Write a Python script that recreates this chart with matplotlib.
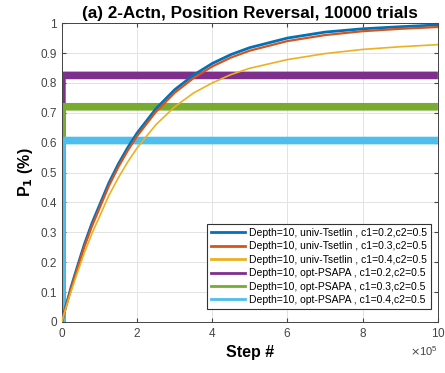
import matplotlib
matplotlib.use("Agg")
import matplotlib.pyplot as plt
from matplotlib.ticker import ScalarFormatter, FormatStrFormatter

plt.rcParams['font.family'] = ['Liberation Sans', 'DejaVu Sans']

steps = [0, 0.1, 0.25, 0.4, 0.6, 0.8, 1, 1.25, 1.5, 1.75, 2, 2.5, 3, 3.5, 4,
         4.5, 5, 6, 7, 8, 9, 10]
tsetlin_02 = [0, 0.05, 0.118, 0.18, 0.26, 0.33, 0.39, 0.465, 0.528, 0.583,
              0.632, 0.713, 0.777, 0.826, 0.865, 0.895, 0.918, 0.95, 0.97,
              0.981, 0.988, 0.994]
tsetlin_03 = [0, 0.048, 0.113, 0.174, 0.252, 0.32, 0.38, 0.455, 0.518, 0.573,
              0.622, 0.703, 0.767, 0.816, 0.855, 0.885, 0.908, 0.94, 0.96,
              0.973, 0.981, 0.987]
tsetlin_04 = [0, 0.044, 0.104, 0.16, 0.232, 0.296, 0.352, 0.423, 0.482, 0.535,
              0.582, 0.66, 0.72, 0.766, 0.80, 0.828, 0.849, 0.878, 0.898,
              0.912, 0.921, 0.928]

# opt-PSAPA jumps to its level right after the first step
flat_steps = [0, 0.001, 10]
psapa_02 = [0, 0.825, 0.825]
psapa_03 = [0, 0.72, 0.72]
psapa_04 = [0, 0.607, 0.607]

labels = [
    "Depth=10, univ-Tsetlin , c1=0.2,c2=0.5",
    "Depth=10, univ-Tsetlin , c1=0.3,c2=0.5",
    "Depth=10, univ-Tsetlin , c1=0.4,c2=0.5",
    "Depth=10, opt-PSAPA , c1=0.2,c2=0.5",
    "Depth=10, opt-PSAPA , c1=0.3,c2=0.5",
    "Depth=10, opt-PSAPA , c1=0.4,c2=0.5",
]
colors = ["#0072BD", "#D95319", "#EDB120", "#7E2F8E", "#77AC30", "#4DBEEE"]

fig = plt.figure(figsize=(4.45, 3.73), dpi=100)
ax = fig.add_axes([0.139, 0.137, 0.845, 0.801])

x = [s * 1e5 for s in steps]
fx = [s * 1e5 for s in flat_steps]
ax.plot(fx, psapa_02, color=colors[3], lw=5.5, solid_capstyle='butt', zorder=2)
ax.plot(fx, psapa_03, color=colors[4], lw=5.5, solid_capstyle='butt', zorder=2)
ax.plot(fx, psapa_04, color=colors[5], lw=5.5, solid_capstyle='butt', zorder=2)
ax.plot(x, tsetlin_02, color=colors[0], lw=2, zorder=3)
ax.plot(x, tsetlin_03, color=colors[1], lw=1.6, zorder=3)
ax.plot(x, tsetlin_04, color=colors[2], lw=1.2, zorder=3)

# legend handles with uniform thickness
handles = [plt.Line2D([], [], color=c, lw=2) for c in colors]
leg = ax.legend(handles, labels, loc='lower right', fontsize=7.5,
                handlelength=3.3, handletextpad=0.3, labelspacing=0.33,
                borderpad=0.4, fancybox=False, framealpha=1,
                edgecolor='#333333', bbox_to_anchor=(0.995, 0.025))
leg.get_frame().set_linewidth(0.8)

ax.set_xlim(0, 1e6)
ax.set_ylim(0, 1)
ax.set_xticks([i * 2e5 for i in range(6)])
ax.set_yticks([i / 10 for i in range(11)])
ax.yaxis.set_major_formatter(FormatStrFormatter('%g'))
fmt = ScalarFormatter(useMathText=True)
fmt.set_powerlimits((5, 5))
ax.xaxis.set_major_formatter(fmt)
ax.xaxis.get_offset_text().set_fontsize(8)
ax.xaxis.get_offset_text().set_color('#555555')

ax.tick_params(labelsize=8.5, colors='#444444', direction='in', length=3,
               top=True, right=True)
for sp in ax.spines.values():
    sp.set_color('#444444')
    sp.set_linewidth(0.7)
ax.grid(True, color='#e3e3e3', lw=0.7)
ax.set_axisbelow(True)

ax.set_title("(a) 2-Actn, Position Reversal, 10000 trials", fontsize=12.3,
             fontweight='bold', pad=4)
ax.set_xlabel("Step #", fontsize=11.5, fontweight='bold')
ax.set_ylabel("P$_\\mathbf{1}$ (%)", fontsize=11.5, fontweight='bold')

fig.savefig("out.png", dpi=100)
